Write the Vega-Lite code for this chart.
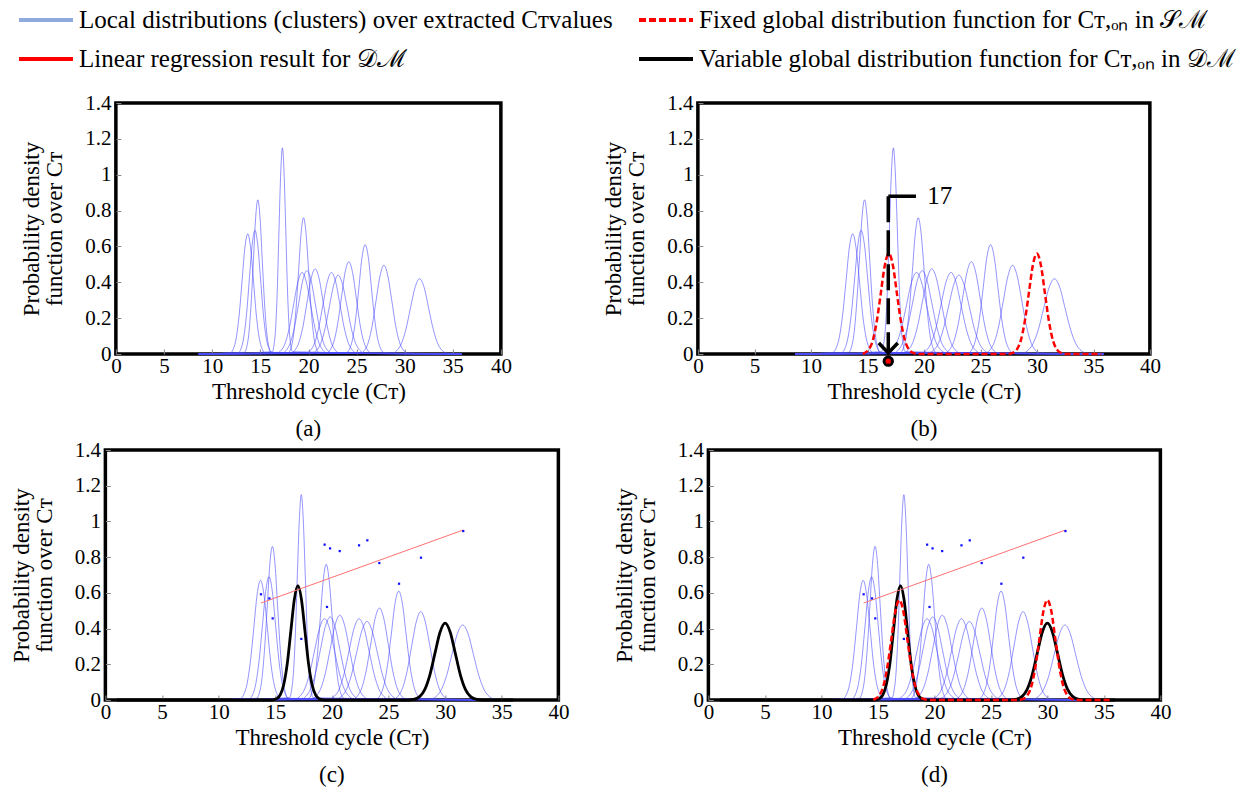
{
  "$schema": "https://vega.github.io/schema/vega-lite/v6.json",
  "padding": {"left": 8, "top": 0, "right": 2, "bottom": 0},
  "background": "white",
  "datasets": {
    "clusters": [
      {"c":1,"x":8.6,"y":0},{"c":1,"x":11.92,"y":0.0074},{"c":1,"x":12.21,"y":0.0294},{"c":1,"x":12.51,"y":0.0907},{"c":1,"x":12.81,"y":0.2175},{"c":1,"x":13.11,"y":0.4064},{"c":1,"x":13.4,"y":0.5913},{"c":1,"x":13.7,"y":0.67},{"c":1,"x":14.0,"y":0.5913},{"c":1,"x":14.3,"y":0.4064},{"c":1,"x":14.59,"y":0.2175},{"c":1,"x":14.89,"y":0.0907},{"c":1,"x":15.19,"y":0.0294},{"c":1,"x":15.49,"y":0.0074},{"c":1,"x":35.9,"y":0},
      {"c":2,"x":8.6,"y":0},{"c":2,"x":12.72,"y":0.0077},{"c":2,"x":13.01,"y":0.0303},{"c":2,"x":13.29,"y":0.0934},{"c":2,"x":13.58,"y":0.224},{"c":2,"x":13.87,"y":0.4185},{"c":2,"x":14.16,"y":0.6089},{"c":2,"x":14.45,"y":0.69},{"c":2,"x":14.74,"y":0.6089},{"c":2,"x":15.03,"y":0.4185},{"c":2,"x":15.32,"y":0.224},{"c":2,"x":15.61,"y":0.0934},{"c":2,"x":15.9,"y":0.0303},{"c":2,"x":16.18,"y":0.0077},{"c":2,"x":35.9,"y":0},
      {"c":3,"x":8.6,"y":0},{"c":3,"x":13.36,"y":0.0095},{"c":3,"x":13.59,"y":0.0378},{"c":3,"x":13.82,"y":0.1164},{"c":3,"x":14.05,"y":0.2792},{"c":3,"x":14.29,"y":0.5216},{"c":3,"x":14.52,"y":0.759},{"c":3,"x":14.75,"y":0.86},{"c":3,"x":14.98,"y":0.759},{"c":3,"x":15.21,"y":0.5216},{"c":3,"x":15.45,"y":0.2792},{"c":3,"x":15.68,"y":0.1164},{"c":3,"x":15.91,"y":0.0378},{"c":3,"x":16.14,"y":0.0095},{"c":3,"x":35.9,"y":0},
      {"c":4,"x":8.6,"y":0},{"c":4,"x":16.26,"y":0.0128},{"c":4,"x":16.43,"y":0.0505},{"c":4,"x":16.61,"y":0.1556},{"c":4,"x":16.78,"y":0.3734},{"c":4,"x":16.95,"y":0.6975},{"c":4,"x":17.13,"y":1.0149},{"c":4,"x":17.3,"y":1.15},{"c":4,"x":17.47,"y":1.0149},{"c":4,"x":17.65,"y":0.6975},{"c":4,"x":17.82,"y":0.3734},{"c":4,"x":17.99,"y":0.1556},{"c":4,"x":18.17,"y":0.0505},{"c":4,"x":18.34,"y":0.0128},{"c":4,"x":35.9,"y":0},
      {"c":5,"x":8.6,"y":0},{"c":5,"x":16.72,"y":0.0051},{"c":5,"x":17.16,"y":0.02},{"c":5,"x":17.6,"y":0.0616},{"c":5,"x":18.03,"y":0.1477},{"c":5,"x":18.47,"y":0.276},{"c":5,"x":18.91,"y":0.4015},{"c":5,"x":19.35,"y":0.455},{"c":5,"x":19.79,"y":0.4015},{"c":5,"x":20.23,"y":0.276},{"c":5,"x":20.67,"y":0.1477},{"c":5,"x":21.1,"y":0.0616},{"c":5,"x":21.54,"y":0.02},{"c":5,"x":21.98,"y":0.0051},{"c":5,"x":35.9,"y":0},
      {"c":6,"x":8.6,"y":0},{"c":6,"x":17.93,"y":0.0084},{"c":6,"x":18.19,"y":0.0334},{"c":6,"x":18.45,"y":0.1028},{"c":6,"x":18.71,"y":0.2468},{"c":6,"x":18.98,"y":0.4609},{"c":6,"x":19.24,"y":0.6707},{"c":6,"x":19.5,"y":0.76},{"c":6,"x":19.76,"y":0.6707},{"c":6,"x":20.03,"y":0.4609},{"c":6,"x":20.29,"y":0.2468},{"c":6,"x":20.55,"y":0.1028},{"c":6,"x":20.81,"y":0.0334},{"c":6,"x":21.08,"y":0.0084},{"c":6,"x":35.9,"y":0},
      {"c":7,"x":8.6,"y":0},{"c":7,"x":17.28,"y":0.0052},{"c":7,"x":17.71,"y":0.0204},{"c":7,"x":18.13,"y":0.0629},{"c":7,"x":18.56,"y":0.151},{"c":7,"x":18.99,"y":0.282},{"c":7,"x":19.42,"y":0.4104},{"c":7,"x":19.85,"y":0.465},{"c":7,"x":20.28,"y":0.4104},{"c":7,"x":20.71,"y":0.282},{"c":7,"x":21.14,"y":0.151},{"c":7,"x":21.57,"y":0.0629},{"c":7,"x":21.99,"y":0.0204},{"c":7,"x":22.42,"y":0.0052},{"c":7,"x":35.9,"y":0},
      {"c":8,"x":8.6,"y":0},{"c":8,"x":18.18,"y":0.0053},{"c":8,"x":18.6,"y":0.0209},{"c":8,"x":19.02,"y":0.0643},{"c":8,"x":19.44,"y":0.1542},{"c":8,"x":19.86,"y":0.2881},{"c":8,"x":20.28,"y":0.4192},{"c":8,"x":20.7,"y":0.475},{"c":8,"x":21.12,"y":0.4192},{"c":8,"x":21.54,"y":0.2881},{"c":8,"x":21.96,"y":0.1542},{"c":8,"x":22.38,"y":0.0643},{"c":8,"x":22.8,"y":0.0209},{"c":8,"x":23.22,"y":0.0053},{"c":8,"x":35.9,"y":0},
      {"c":9,"x":8.6,"y":0},{"c":9,"x":19.77,"y":0.0051},{"c":9,"x":20.21,"y":0.02},{"c":9,"x":20.65,"y":0.0616},{"c":9,"x":21.08,"y":0.1477},{"c":9,"x":21.52,"y":0.276},{"c":9,"x":21.96,"y":0.4015},{"c":9,"x":22.4,"y":0.455},{"c":9,"x":22.84,"y":0.4015},{"c":9,"x":23.28,"y":0.276},{"c":9,"x":23.72,"y":0.1477},{"c":9,"x":24.15,"y":0.0616},{"c":9,"x":24.59,"y":0.02},{"c":9,"x":25.03,"y":0.0051},{"c":9,"x":35.9,"y":0},
      {"c":10,"x":8.6,"y":0},{"c":10,"x":20.38,"y":0.0049},{"c":10,"x":20.83,"y":0.0193},{"c":10,"x":21.29,"y":0.0595},{"c":10,"x":21.74,"y":0.1429},{"c":10,"x":22.19,"y":0.2669},{"c":10,"x":22.65,"y":0.3883},{"c":10,"x":23.1,"y":0.44},{"c":10,"x":23.55,"y":0.3883},{"c":10,"x":24.01,"y":0.2669},{"c":10,"x":24.46,"y":0.1429},{"c":10,"x":24.91,"y":0.0595},{"c":10,"x":25.37,"y":0.0193},{"c":10,"x":25.82,"y":0.0049},{"c":10,"x":35.9,"y":0},
      {"c":11,"x":8.6,"y":0},{"c":11,"x":21.88,"y":0.0057},{"c":11,"x":22.26,"y":0.0226},{"c":11,"x":22.65,"y":0.0697},{"c":11,"x":23.04,"y":0.1672},{"c":11,"x":23.43,"y":0.3123},{"c":11,"x":23.81,"y":0.4545},{"c":11,"x":24.2,"y":0.515},{"c":11,"x":24.59,"y":0.4545},{"c":11,"x":24.98,"y":0.3123},{"c":11,"x":25.36,"y":0.1672},{"c":11,"x":25.75,"y":0.0697},{"c":11,"x":26.14,"y":0.0226},{"c":11,"x":26.53,"y":0.0057},{"c":11,"x":35.9,"y":0},
      {"c":12,"x":8.6,"y":0},{"c":12,"x":23.94,"y":0.0068},{"c":12,"x":24.27,"y":0.0268},{"c":12,"x":24.59,"y":0.0825},{"c":12,"x":24.92,"y":0.1981},{"c":12,"x":25.25,"y":0.37},{"c":12,"x":25.57,"y":0.5383},{"c":12,"x":25.9,"y":0.61},{"c":12,"x":26.23,"y":0.5383},{"c":12,"x":26.55,"y":0.37},{"c":12,"x":26.88,"y":0.1981},{"c":12,"x":27.21,"y":0.0825},{"c":12,"x":27.54,"y":0.0268},{"c":12,"x":27.86,"y":0.0068},{"c":12,"x":35.9,"y":0},
      {"c":13,"x":8.6,"y":0},{"c":13,"x":25.43,"y":0.0055},{"c":13,"x":25.84,"y":0.0217},{"c":13,"x":26.24,"y":0.067},{"c":13,"x":26.64,"y":0.1607},{"c":13,"x":27.04,"y":0.3002},{"c":13,"x":27.45,"y":0.4368},{"c":13,"x":27.85,"y":0.495},{"c":13,"x":28.25,"y":0.4368},{"c":13,"x":28.66,"y":0.3002},{"c":13,"x":29.06,"y":0.1607},{"c":13,"x":29.46,"y":0.067},{"c":13,"x":29.86,"y":0.0217},{"c":13,"x":30.27,"y":0.0055},{"c":13,"x":35.9,"y":0},
      {"c":14,"x":8.6,"y":0},{"c":14,"x":28.7,"y":0.0047},{"c":14,"x":29.18,"y":0.0184},{"c":14,"x":29.65,"y":0.0568},{"c":14,"x":30.13,"y":0.1364},{"c":14,"x":30.6,"y":0.2547},{"c":14,"x":31.08,"y":0.3707},{"c":14,"x":31.55,"y":0.42},{"c":14,"x":32.03,"y":0.3707},{"c":14,"x":32.5,"y":0.2547},{"c":14,"x":32.98,"y":0.1364},{"c":14,"x":33.45,"y":0.0568},{"c":14,"x":33.93,"y":0.0184},{"c":14,"x":34.4,"y":0.0047},{"c":14,"x":35.9,"y":0}
    ],
    "red": [
      {"x":14.6,"y":0},{"x":14.76,"y":0.0062},{"x":15.12,"y":0.0246},{"x":15.48,"y":0.0758},{"x":15.83,"y":0.1818},{"x":16.19,"y":0.3396},{"x":16.54,"y":0.4942},{"x":16.9,"y":0.56},{"x":17.26,"y":0.4942},{"x":17.61,"y":0.3396},{"x":17.97,"y":0.1818},{"x":18.32,"y":0.0758},{"x":18.68,"y":0.0246},{"x":19.04,"y":0.0062},{"x":19.5,"y":0},{"x":27.4,"y":0},{"x":27.86,"y":0.0062},{"x":28.22,"y":0.0246},{"x":28.58,"y":0.0758},{"x":28.93,"y":0.1818},{"x":29.29,"y":0.3396},{"x":29.64,"y":0.4942},{"x":30.0,"y":0.56},{"x":30.36,"y":0.4942},{"x":30.71,"y":0.3396},{"x":31.07,"y":0.1818},{"x":31.42,"y":0.0758},{"x":31.78,"y":0.0246},{"x":32.14,"y":0.0062},{"x":32.6,"y":0},{"x":35.7,"y":0}
    ],
    "black": [
      {"x":1,"y":0},{"x":14.7,"y":0},{"x":15.13,"y":0.0071},{"x":15.44,"y":0.0281},{"x":15.75,"y":0.0866},{"x":16.07,"y":0.2078},{"x":16.38,"y":0.3882},{"x":16.69,"y":0.5648},{"x":17.0,"y":0.64},{"x":17.31,"y":0.5648},{"x":17.62,"y":0.3882},{"x":17.93,"y":0.2078},{"x":18.25,"y":0.0866},{"x":18.56,"y":0.0281},{"x":18.87,"y":0.0071},{"x":19.3,"y":0},{"x":26.7,"y":0},{"x":27.3,"y":0.0048},{"x":27.75,"y":0.0189},{"x":28.2,"y":0.0582},{"x":28.65,"y":0.1396},{"x":29.1,"y":0.2608},{"x":29.55,"y":0.3795},{"x":30.0,"y":0.43},{"x":30.45,"y":0.3795},{"x":30.9,"y":0.2608},{"x":31.35,"y":0.1396},{"x":31.8,"y":0.0582},{"x":32.25,"y":0.0189},{"x":32.7,"y":0.0048},{"x":33.3,"y":0},{"x":36,"y":0}
    ],
    "dots": [
      {"x":13.74,"y":0.592},{"x":14.48,"y":0.569},{"x":14.77,"y":0.457},{"x":17.3,"y":0.342},{"x":19.36,"y":0.87},{"x":19.84,"y":0.849},{"x":19.57,"y":0.521},{"x":20.69,"y":0.834},{"x":22.4,"y":0.866},{"x":23.13,"y":0.894},{"x":24.19,"y":0.767},{"x":25.93,"y":0.651},{"x":27.87,"y":0.797},{"x":31.6,"y":0.946}
    ],
    "reg": [{"x":13.74,"y":0.543},{"x":31.6,"y":0.952}],
    "legend": [
      {"s":"Local distributions (clusters) over extracted Cᴛvalues"},
      {"s":"Linear regression result for 𝒟ℳ"},
      {"s":"Fixed global distribution function for Cᴛ,ₒₙ in 𝒮ℳ"},
      {"s":"Variable global distribution function for Cᴛ,ₒₙ in 𝒟ℳ"}
    ],
    "vline": [{"x":16.85,"y":0.88,"y2":0.02}],
    "hline": [{"x":16.85,"x2":19.3,"y":0.88}],
    "label17": [{"x":20.3,"y":0.88,"t":"17"}],
    "tip": [{"x":16.85,"y":0.006}],
    "mark0": [{"x":16.85,"y":-0.04}]
  },
  "vconcat": [
    {
      "hconcat": [
        {
          "width": 385, "height": 251,
          "title": {"text": "(a)", "orient": "bottom", "anchor": "middle", "fontSize": 23, "font": "Liberation Serif", "fontWeight": "normal", "offset": 15},
          "encoding": {
            "x": {"field": "x", "type": "quantitative", "scale": {"domain": [0, 40], "nice": false, "zero": false}, "axis": {"values": [0,5,10,15,20,25,30,35,40], "title": "Threshold cycle (Cᴛ)"}},
            "y": {"field": "y", "type": "quantitative", "scale": {"domain": [0, 1.4], "nice": false, "zero": false}, "axis": {"values": [0,0.2,0.4,0.6,0.8,1,1.2,1.4], "format": "~g", "title": ["Probability density", "function over Cᴛ"]}}
          },
          "layer": [
            {"data": {"name": "clusters"}, "mark": {"type": "line", "interpolate": "monotone", "stroke": "#4b4bff", "strokeWidth": 0.8, "opacity": 0.75}, "encoding": {"detail": {"field": "c", "type": "nominal"}}},
            {"data": {"name": "legend"}, "mark": {"type": "rule"},
             "encoding": {
               "color": {"field": "s", "type": "nominal", "scale": {"domain": ["Local distributions (clusters) over extracted Cᴛvalues", "Linear regression result for 𝒟ℳ", "Fixed global distribution function for Cᴛ,ₒₙ in 𝒮ℳ", "Variable global distribution function for Cᴛ,ₒₙ in 𝒟ℳ"], "range": ["#8FAADC", "#FF0000", "#FF0000", "#000000"]},
                 "legend": {"orient": "none", "legendX": -79, "legendY": -103, "title": null, "columns": 2, "symbolType": "M-1.5,0L1.5,0", "symbolSize": 1296, "symbolStrokeWidth": 4, "labelFont": "Liberation Serif", "labelFontSize": 25, "labelLimit": 900, "rowPadding": 6, "columnPadding": 18, "labelOffset": 13}},
               "strokeDash": {"field": "s", "type": "nominal", "scale": {"domain": ["Local distributions (clusters) over extracted Cᴛvalues", "Linear regression result for 𝒟ℳ", "Fixed global distribution function for Cᴛ,ₒₙ in 𝒮ℳ", "Variable global distribution function for Cᴛ,ₒₙ in 𝒟ℳ"], "range": [[1,0],[1,0],[7,3],[1,0]]},
                 "legend": {"orient": "none", "legendX": -79, "legendY": -103, "title": null, "columns": 2, "symbolType": "M-1.5,0L1.5,0", "symbolSize": 1296, "symbolStrokeWidth": 4, "labelFont": "Liberation Serif", "labelFontSize": 25, "labelLimit": 900, "rowPadding": 6, "columnPadding": 18, "labelOffset": 13}}
             }}
          ]
        },
        {
          "width": 452, "height": 251,
          "title": {"text": "(b)", "orient": "bottom", "anchor": "middle", "fontSize": 23, "font": "Liberation Serif", "fontWeight": "normal", "offset": 15},
          "encoding": {
            "x": {"field": "x", "type": "quantitative", "scale": {"domain": [0, 40], "nice": false, "zero": false}, "axis": {"values": [0,5,10,15,20,25,30,35,40], "title": "Threshold cycle (Cᴛ)"}},
            "y": {"field": "y", "type": "quantitative", "scale": {"domain": [0, 1.4], "nice": false, "zero": false}, "axis": {"values": [0,0.2,0.4,0.6,0.8,1,1.2,1.4], "format": "~g", "title": ["Probability density", "function over Cᴛ"]}}
          },
          "layer": [
            {"data": {"name": "clusters"}, "mark": {"type": "line", "interpolate": "monotone", "stroke": "#4b4bff", "strokeWidth": 0.8, "opacity": 0.75}, "encoding": {"detail": {"field": "c", "type": "nominal"}}},
            {"data": {"name": "red"}, "mark": {"type": "line", "interpolate": "monotone", "stroke": "#ff0000", "strokeWidth": 2.5, "strokeDash": [6, 3]}},
            {"data": {"name": "vline"}, "mark": {"type": "rule", "stroke": "black", "strokeWidth": 3.5, "strokeDash": [26, 8]}, "encoding": {"y2": {"field": "y2"}}},
            {"data": {"name": "hline"}, "mark": {"type": "rule", "stroke": "black", "strokeWidth": 3.5}, "encoding": {"x2": {"field": "x2"}}},
            {"data": {"name": "label17"}, "mark": {"type": "text", "align": "left", "baseline": "middle", "fontSize": 25, "font": "Liberation Serif", "color": "black"}, "encoding": {"text": {"field": "t", "type": "nominal"}}},
            {"data": {"name": "tip"}, "mark": {"type": "point", "shape": "M-0.95,-1L0,0L0.95,-1", "filled": false, "stroke": "black", "strokeWidth": 3.5, "size": 400, "opacity": 1}},
            {"data": {"name": "mark0"}, "mark": {"type": "point", "shape": "circle", "filled": true, "fill": "#ff0000", "stroke": "black", "strokeWidth": 3, "size": 70, "opacity": 1}}
          ]
        }
      ],
      "spacing": 87
    },
    {
      "hconcat": [
        {
          "width": 453, "height": 250,
          "title": {"text": "(c)", "orient": "bottom", "anchor": "middle", "fontSize": 23, "font": "Liberation Serif", "fontWeight": "normal", "offset": 15},
          "encoding": {
            "x": {"field": "x", "type": "quantitative", "scale": {"domain": [0, 40], "nice": false, "zero": false}, "axis": {"values": [0,5,10,15,20,25,30,35,40], "title": "Threshold cycle (Cᴛ)"}},
            "y": {"field": "y", "type": "quantitative", "scale": {"domain": [0, 1.4], "nice": false, "zero": false}, "axis": {"values": [0,0.2,0.4,0.6,0.8,1,1.2,1.4], "format": "~g", "title": ["Probability density", "function over Cᴛ"]}}
          },
          "layer": [
            {"data": {"name": "clusters"}, "mark": {"type": "line", "interpolate": "monotone", "stroke": "#4b4bff", "strokeWidth": 0.8, "opacity": 0.75}, "encoding": {"detail": {"field": "c", "type": "nominal"}}},
            {"data": {"name": "black"}, "mark": {"type": "line", "interpolate": "monotone", "stroke": "black", "strokeWidth": 2.8}},
            {"data": {"name": "reg"}, "mark": {"type": "line", "stroke": "#ff7070", "strokeWidth": 1}},
            {"data": {"name": "dots"}, "mark": {"type": "square", "color": "#1010ff", "size": 5, "opacity": 1}}
          ]
        },
        {
          "width": 452, "height": 250,
          "title": {"text": "(d)", "orient": "bottom", "anchor": "middle", "fontSize": 23, "font": "Liberation Serif", "fontWeight": "normal", "offset": 15},
          "encoding": {
            "x": {"field": "x", "type": "quantitative", "scale": {"domain": [0, 40], "nice": false, "zero": false}, "axis": {"values": [0,5,10,15,20,25,30,35,40], "title": "Threshold cycle (Cᴛ)"}},
            "y": {"field": "y", "type": "quantitative", "scale": {"domain": [0, 1.4], "nice": false, "zero": false}, "axis": {"values": [0,0.2,0.4,0.6,0.8,1,1.2,1.4], "format": "~g", "title": ["Probability density", "function over Cᴛ"]}}
          },
          "layer": [
            {"data": {"name": "clusters"}, "mark": {"type": "line", "interpolate": "monotone", "stroke": "#4b4bff", "strokeWidth": 0.8, "opacity": 0.75}, "encoding": {"detail": {"field": "c", "type": "nominal"}}},
            {"data": {"name": "black"}, "mark": {"type": "line", "interpolate": "monotone", "stroke": "black", "strokeWidth": 2.8}},
            {"data": {"name": "red"}, "mark": {"type": "line", "interpolate": "monotone", "stroke": "#ff0000", "strokeWidth": 2.5, "strokeDash": [6, 3]}},
            {"data": {"name": "reg"}, "mark": {"type": "line", "stroke": "#ff7070", "strokeWidth": 1}},
            {"data": {"name": "dots"}, "mark": {"type": "square", "color": "#1010ff", "size": 5, "opacity": 1}}
          ]
        }
      ],
      "spacing": 40
    }
  ],
  "spacing": -6,
  "center": true,
  "config": {
    "view": {"stroke": "black", "strokeWidth": 3.5},
    "font": "Liberation Serif",
    "axis": {"domain": false, "grid": false, "labelFont": "Liberation Serif", "labelFontSize": 21, "labelColor": "black", "labelFlush": false, "titleFont": "Liberation Serif", "titleFontSize": 23, "titleFontWeight": "normal", "titleColor": "black", "titleLineHeight": 23, "tickColor": "#888888", "tickSize": -5, "tickWidth": 1, "labelPadding": 6},
    "axisX": {"titlePadding": 4},
    "axisY": {"titlePadding": 18, "labelPadding": 10}
  }
}
